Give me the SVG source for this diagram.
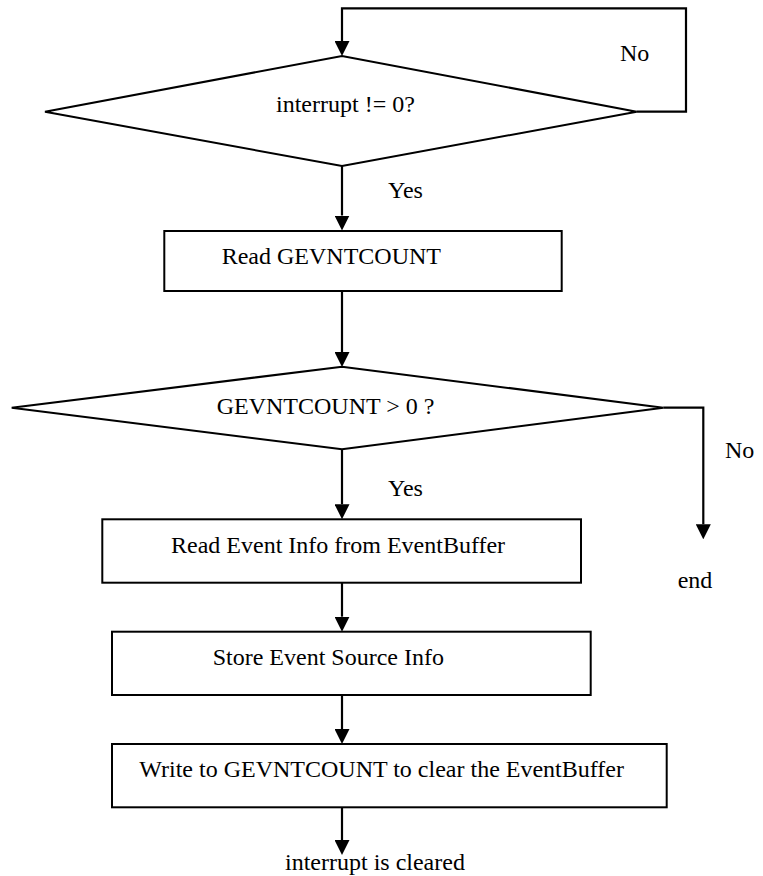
<svg xmlns="http://www.w3.org/2000/svg" width="763" height="876" viewBox="0 0 763 876">
  <style>
    .shape { fill: #ffffff; stroke: #000000; stroke-width: 2; }
    .conn { fill: none; stroke: #000000; stroke-width: 2.2; }
    text { font-family: 'Liberation Serif', 'Times New Roman', 'DejaVu Serif', serif; font-size: 24px; fill: #000000; }
  </style>
  <defs>
    <marker id="arrow" markerUnits="userSpaceOnUse" markerWidth="15" markerHeight="15" refX="0" refY="7.5" orient="auto">
      <path d="M0,0 L15,7.5 L0,15 z" fill="#000000"/>
    </marker>
  </defs>
  <rect width="763" height="876" fill="#ffffff"/>

  <g font-family="Liberation Serif, serif" font-size="24">
    <!-- decision: interrupt pending -->
    <g id="decision-interrupt">
      <polygon class="shape" points="45,111.7 342,56 636.7,111.7 342,166"/>
      <text x="276" y="112">interrupt != 0?</text>
    </g>

    <!-- process: read event count -->
    <g id="read-count">
      <rect class="shape" x="164.3" y="231" width="397.4" height="60"/>
      <text x="221.7" y="264.3">Read GEVNTCOUNT</text>
    </g>

    <!-- decision: events available -->
    <g id="decision-count">
      <polygon class="shape" points="11.7,407.7 342,366.7 663.3,407.7 342,449.3"/>
      <text x="216.7" y="414.3">GEVNTCOUNT &gt; 0 ?</text>
    </g>

    <!-- process: read event info -->
    <g id="read-event">
      <rect class="shape" x="102.3" y="519.3" width="478.7" height="63.4"/>
      <text x="171" y="552.7">Read Event Info from EventBuffer</text>
    </g>

    <!-- process: store event source -->
    <g id="store-source">
      <rect class="shape" x="112" y="631.7" width="478.7" height="63.3"/>
      <text x="212.7" y="665">Store Event Source Info</text>
    </g>

    <!-- process: write count back -->
    <g id="write-count">
      <rect class="shape" x="112" y="744" width="554.7" height="63.3"/>
      <text x="139.3" y="776.7">Write to GEVNTCOUNT to clear the EventBuffer</text>
    </g>

    <!-- terminal labels -->
    <g id="end">
      <text x="677.7" y="587.7">end</text>
    </g>
    <g id="cleared">
      <text x="285" y="870">interrupt is cleared</text>
    </g>

    <!-- connectors and branch labels -->
    <g id="connectors">
      <path class="conn" d="M636.7,111.7 H686 V8.3 H342 V41" marker-end="url(#arrow)"/>
      <path class="conn" d="M342,166 V215.5" marker-end="url(#arrow)"/>
      <path class="conn" d="M342,291 V352" marker-end="url(#arrow)"/>
      <path class="conn" d="M342,449.3 V504.3" marker-end="url(#arrow)"/>
      <path class="conn" d="M342,582.7 V616.7" marker-end="url(#arrow)"/>
      <path class="conn" d="M342,695 V729" marker-end="url(#arrow)"/>
      <path class="conn" d="M342,807.3 V840" marker-end="url(#arrow)"/>
      <path class="conn" d="M663.3,407.7 H703.3 V524.3" marker-end="url(#arrow)"/>
      <text x="620" y="61">No</text>
      <text x="388" y="198">Yes</text>
      <text x="725" y="458">No</text>
      <text x="388" y="496">Yes</text>
    </g>
  </g>
</svg>
